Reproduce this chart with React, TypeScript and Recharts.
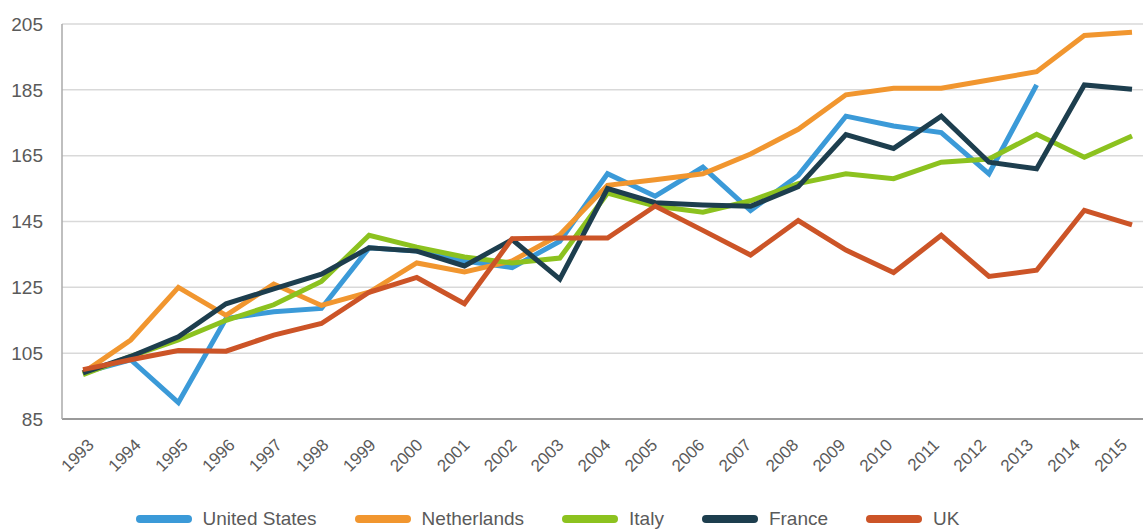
import React from "react";
import { LineChart, Line, XAxis, YAxis, CartesianGrid, Legend } from "recharts";

const years = [
  "1993", "1994", "1995", "1996", "1997", "1998", "1999", "2000", "2001", "2002", "2003", "2004",
  "2005", "2006", "2007", "2008", "2009", "2010", "2011", "2012", "2013", "2014", "2015",
];

const unitedStates = [99, 103, 90, 115.5, 117.6, 118.6, 137, 136, 133, 131, 139, 159.5, 152.7, 161.5, 148.3, 159, 177, 174, 172, 159.5, 186.5, null, null];
const netherlands = [99, 109, 125, 116.5, 126, 119.5, 123.5, 132.4, 129.7, 133, 141, 156, 157.7, 159.5, 165.5, 173, 183.5, 185.5, 185.5, 188, 190.5, 201.5, 202.5];
const italy = [98.5, 104, 109, 115, 119.7, 126.8, 140.8, 137.2, 134.2, 132.4, 133.9, 153.6, 149.7, 147.8, 151.3, 156.5, 159.5, 158, 163, 164, 171.5, 164.5, 171];
const france = [99, 104, 110, 120, 124.5, 129, 137, 136, 131.5, 139.5, 127.5, 155, 150.7, 150, 149.6, 155.6, 171.4, 167.2, 177, 163, 161, 186.5, 185.2];
const uk = [100, 103, 105.8, 105.6, 110.5, 114, 123.5, 128, 120, 139.8, 140, 140, 149.7, 142.3, 134.8, 145.3, 136.3, 129.5, 140.8, 128.3, 130.2, 148.4, 144];

const yTicks = [85, 105, 125, 145, 165, 185, 205];

const seriesNames = ["United States", "Netherlands", "Italy", "France", "UK"];
const seriesKeys = ["us", "nl", "it", "fr", "uk"];
const seriesColors = ["#3b9ad8", "#f1962f", "#8cc21f", "#1d3e4e", "#cc5427"];
const seriesValues = [unitedStates, netherlands, italy, france, uk];

const data = years.map((year, i) => {
  const row: Record<string, string | number | null> = { year };
  seriesKeys.forEach((k, s) => {
    row[k] = seriesValues[s][i];
  });
  return row;
});

const XTick = (props: any) => {
  const { x, y, payload, index } = props;
  const dx = 12 - (index ?? 0) * 0.72;
  return (
    <g transform={`translate(${x + dx},${y + 27})`}>
      <text
        x={0}
        y={0}
        transform="rotate(-45)"
        textAnchor="end"
        fill="#5a5a5a"
        fontSize={17}
        fontFamily="'Liberation Sans', Arial, sans-serif"
      >
        {payload.value}
      </text>
    </g>
  );
};

const LegendContent = () => (
  <div
    style={{
      display: "flex",
      justifyContent: "center",
      alignItems: "center",
      gap: 38,
      height: 22,
      fontFamily: "'Liberation Sans', Arial, sans-serif",
      fontSize: 19,
      color: "#5a5a5a",
      paddingRight: 48,
    }}
  >
    {seriesNames.map((n, i) => (
      <div key={n} style={{ display: "flex", alignItems: "center" }}>
        <span
          style={{
            display: "inline-block",
            width: 56,
            height: 8,
            borderRadius: 4,
            background: seriesColors[i],
            marginRight: 11,
          }}
        />
        <span>{n}</span>
      </div>
    ))}
  </div>
);

export default function App() {
  return (
    <div style={{ position: "absolute", left: 0, top: 0, width: 1143, height: 530, background: "#fff" }}>
      <LineChart width={1143} height={530} data={data} margin={{ top: 24, right: 0, left: 0, bottom: 0 }}>
        <CartesianGrid horizontal vertical={false} stroke="#d9d9d9" strokeWidth={1.5} />
        <XAxis
          dataKey="year"
          interval={0}
          padding={{ left: 21, right: 11 }}
          tickLine={false}
          tickSize={0}
          tickMargin={0}
          height={89}
          axisLine={{ stroke: "#9a9a9a", strokeWidth: 2 }}
          tick={<XTick />}
        />
        <YAxis
          domain={[85, 205]}
          ticks={yTicks}
          interval={0}
          width={62}
          tickLine={false}
          tickSize={0}
          tickMargin={19}
          axisLine={{ stroke: "#aaaaaa", strokeWidth: 1.5 }}
          tick={{ fill: "#5a5a5a", fontSize: 19, fontFamily: "'Liberation Sans', Arial, sans-serif" }}
        />
        <Legend verticalAlign="bottom" content={<LegendContent />} wrapperStyle={{ height: 22, bottom: 0 }} />
        {seriesKeys.map((k, i) => (
          <Line
            key={k}
            type="linear"
            dataKey={k}
            name={seriesNames[i]}
            stroke={seriesColors[i]}
            strokeWidth={5}
            dot={false}
            activeDot={false}
            connectNulls={false}
            isAnimationActive={false}
          />
        ))}
      </LineChart>
    </div>
  );
}
